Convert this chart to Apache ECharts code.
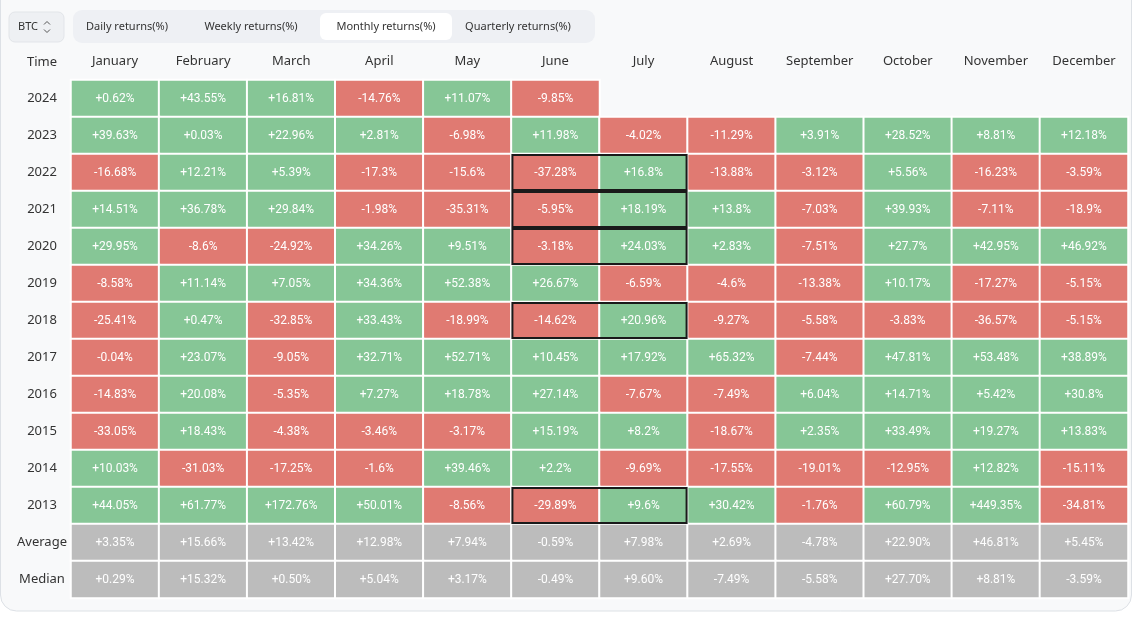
<!DOCTYPE html>
<html>
<head>
<meta charset="utf-8">
<title>BTC monthly returns</title>
<script src="https://cdn.jsdelivr.net/npm/echarts@6/dist/echarts.min.js"></script>
<style>
	html, body { margin: 0; padding: 0; background: #fff; }
	#chart { width: 1133px; height: 630px; }
</style>
</head>
<body>
<div id="chart"></div>
<script>
'use strict';
// 月份 / 行标签
var months = ['January', 'February', 'March', 'April', 'May', 'June', 'July', 'August', 'September', 'October', 'November', 'December'];
var years = ['2024', '2023', '2022', '2021', '2020', '2019', '2018', '2017', '2016', '2015', '2014', '2013'];
var summaryRows = ['Average', 'Median'];

// 每年的月收益(%)
var r2024 = [0.62, 43.55, 16.81, -14.76, 11.07, -9.85];
var r2023 = [39.63, 0.03, 22.96, 2.81, -6.98, 11.98, -4.02, -11.29, 3.91, 28.52, 8.81, 12.18];
var r2022 = [-16.68, 12.21, 5.39, -17.3, -15.6, -37.28, 16.8, -13.88, -3.12, 5.56, -16.23, -3.59];
var r2021 = [14.51, 36.78, 29.84, -1.98, -35.31, -5.95, 18.19, 13.8, -7.03, 39.93, -7.11, -18.9];
var r2020 = [29.95, -8.6, -24.92, 34.26, 9.51, -3.18, 24.03, 2.83, -7.51, 27.7, 42.95, 46.92];
var r2019 = [-8.58, 11.14, 7.05, 34.36, 52.38, 26.67, -6.59, -4.6, -13.38, 10.17, -17.27, -5.15];
var r2018 = [-25.41, 0.47, -32.85, 33.43, -18.99, -14.62, 20.96, -9.27, -5.58, -3.83, -36.57, -5.15];
var r2017 = [-0.04, 23.07, -9.05, 32.71, 52.71, 10.45, 17.92, 65.32, -7.44, 47.81, 53.48, 38.89];
var r2016 = [-14.83, 20.08, -5.35, 7.27, 18.78, 27.14, -7.67, -7.49, 6.04, 14.71, 5.42, 30.8];
var r2015 = [-33.05, 18.43, -4.38, -3.46, -3.17, 15.19, 8.2, -18.67, 2.35, 33.49, 19.27, 13.83];
var r2014 = [10.03, -31.03, -17.25, -1.6, 39.46, 2.2, -9.69, -17.55, -19.01, -12.95, 12.82, -15.11];
var r2013 = [44.05, 61.77, 172.76, 50.01, -8.56, -29.89, 9.6, 30.42, -1.76, 60.79, 449.35, -34.81];
var average = [3.35, 15.66, 13.42, 12.98, 7.94, -0.59, 7.98, 2.69, -4.78, 22.90, 46.81, 5.45];
var median = [0.29, 15.32, 0.50, 5.04, 3.17, -0.49, 9.60, -7.49, -5.58, 27.70, 8.81, -3.59];

// 黑框标出的年份 (June + July)
var boxedYears = ['2022', '2021', '2020', '2018', '2013'];
var tabs = ['Daily returns(%)', 'Weekly returns(%)', 'Monthly returns(%)', 'Quarterly returns(%)'];

(function(){
	var GREEN = '#86c696';
	var RED = '#e07a72';
	var GRAY = '#bcbcbc';

	var yearRows = [r2024, r2023, r2022, r2021, r2020, r2019, r2018, r2017, r2016, r2015, r2014, r2013];
	var rows = years.concat(summaryRows);

	var cells = [];
	yearRows.forEach(function(list, ri){
		list.forEach(function(v, ci){
			cells.push({
				value: [ci, ri, v],
				label: { formatter: (v >= 0 ? '+' : '') + v + '%' },
				itemStyle: { color: v >= 0 ? GREEN : RED }
			});
		});
	});
	[average, median].forEach(function(list, k){
		var ri = years.length + k;
		list.forEach(function(v, ci){
			cells.push({
				value: [ci, ri, v],
				label: { formatter: (v >= 0 ? '+' : '') + v.toFixed(2) + '%' },
				itemStyle: { color: GRAY }
			});
		});
	});

	var boxData = boxedYears.map(function(y){
		return [5, rows.indexOf(y)];
	});

	// 顶部的切换按钮
	var tabX = [80, 188, 322, 452];
	var tabW = [96, 128, 130, 134];
	var graphics = [
		{ type: 'rect', z: -10, silent: true, shape: { x: 0.5, y: -30, width: 1131, height: 641, r: 16 },
			style: { fill: '#f8f9fa', stroke: '#dde1e6', lineWidth: 1 } },
		{ type: 'rect', z: -5, shape: { x: 9, y: 12, width: 55, height: 30, r: 6 },
			style: { fill: '#eef0f3', stroke: '#e2e5e9', lineWidth: 1 } },
		{ type: 'text', z: -4, x: 18, y: 27, style: { text: 'BTC', fill: '#333', font: '11px "Noto Sans"', verticalAlign: 'middle' } },
		{ type: 'polyline', z: -4, shape: { points: [[44, 24.5], [47, 21.5], [50, 24.5]] }, style: { stroke: '#555', lineWidth: 1, fill: null } },
		{ type: 'polyline', z: -4, shape: { points: [[44, 29.5], [47, 32.5], [50, 29.5]] }, style: { stroke: '#555', lineWidth: 1, fill: null } },
		{ type: 'rect', z: -5, shape: { x: 73, y: 10, width: 522, height: 33, r: 9 },
			style: { fill: '#eef0f4' } },
		{ type: 'rect', z: -4, shape: { x: 320, y: 13, width: 132, height: 27, r: 6 },
			style: { fill: '#ffffff' } },
		{ type: 'text', z: -3, x: 42, y: 62, style: { text: 'Time', fill: '#333', font: '13px "Noto Sans"', align: 'center', verticalAlign: 'middle' } }
	];
	tabs.forEach(function(t, i){
		graphics.push({ type: 'text', z: -3, x: tabX[i] + tabW[i] / 2 - 1, y: 27,
			style: { text: t, fill: '#333', font: '11px "Noto Sans"', align: 'center', verticalAlign: 'middle' } });
	});

	var chart = echarts.init(document.getElementById('chart'));
	chart.setOption({
		backgroundColor: '#ffffff',
		animation: false,
		graphic: graphics,
		grid: { left: 71, right: 5, top: 80, bottom: 32 },
		xAxis: {
			type: 'category',
			position: 'top',
			data: months,
			axisLine: { show: false },
			axisTick: { show: false },
			splitLine: { show: false },
			axisLabel: { color: '#333', fontSize: 13, fontFamily: 'Noto Sans', margin: 12, interval: 0 }
		},
		yAxis: {
			type: 'category',
			inverse: true,
			data: rows,
			axisLine: { show: false },
			axisTick: { show: false },
			splitLine: { show: false },
			axisLabel: { color: '#333', fontSize: 13, fontFamily: 'Noto Sans', margin: 29, align: 'center', interval: 0 }
		},
		series: [
			{
				type: 'heatmap',
				data: cells,
				itemStyle: { borderColor: '#ffffff', borderWidth: 2 },
				label: { show: true, color: '#ffffff', fontSize: 12, fontFamily: 'Roboto' },
				emphasis: { disabled: true }
			},
			{
				type: 'custom',
				data: boxData,
				z: 5,
				silent: true,
				renderItem: function(params, api){
					var c = api.coord([api.value(0), api.value(1)]);
					var s = api.size([1, 1]);
					return {
						type: 'rect',
						shape: { x: c[0] - s[0] / 2 + 1, y: c[1] - s[1] / 2 + 1, width: s[0] * 2 - 2, height: s[1] - 2 },
						style: { fill: null, stroke: '#1a1a1a', lineWidth: 2 }
					};
				}
			}
		]
	});
}.call(this));
</script>
</body>
</html>
